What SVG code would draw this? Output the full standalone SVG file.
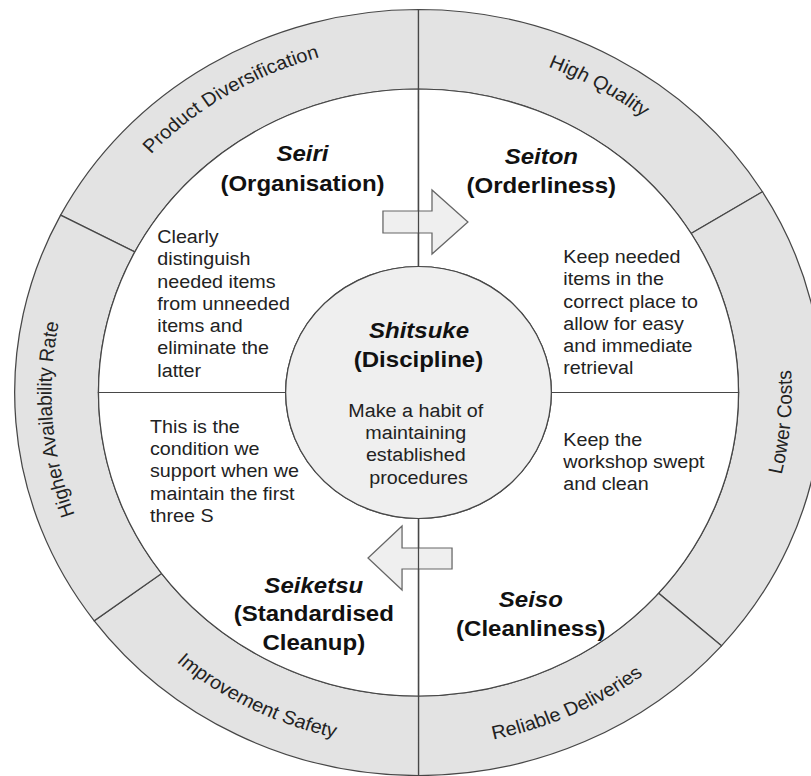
<svg xmlns="http://www.w3.org/2000/svg" width="811" height="776" viewBox="0 0 811 776">
<defs>
<style>
.ring{fill:#e3e3e3;stroke:#474747;stroke-width:1.2}
.quad{fill:#ffffff;stroke:#474747;stroke-width:1.2}
.hub{fill:#efefef;stroke:#474747;stroke-width:1.2}
.arrow{fill:#efefef;stroke:#666666;stroke-width:1.2}
.div{stroke:#474747;stroke-width:1.2;fill:none}
text{font-family:"Liberation Sans",Arial,Helvetica,sans-serif}
.lbl{font-size:19px;fill:#222222;text-anchor:middle}
.t{font-size:22.8px;font-weight:bold;fill:#111111;text-anchor:middle}
.ti{font-style:italic}
.b{font-size:18.7px;fill:#222222}
.bc{text-anchor:middle}
</style>
<path id="p-pd" d="M 110.1 231.3 A 348 348 0 0 1 418.5 44.5"/>
<path id="p-hq" d="M 418.5 44.5 A 348 348 0 0 1 714.9 210.1"/>
<path id="p-ha" d="M 139.1 600 A 348 348 0 0 1 110.1 231.3"/>
<path id="p-lc" d="M 684 626.6 A 354 354 0 0 0 720 207"/>
<path id="p-rd" d="M 418.5 746.5 A 354 354 0 0 0 684 626.6"/>
<path id="p-is" d="M 134.3 603.6 A 354 354 0 0 0 418.5 746.5"/>
</defs>
<rect width="811" height="776" fill="#ffffff"/>
<g transform="matrix(1.0545 0 0 1 -22.81 0)">
  <g id="ring-product-diversification">
    <path class="ring" d="M 79.1 215.1 A 383 383 0 0 1 418.5 9.5 L 418.5 89 A 303.5 303.5 0 0 0 149.5 251.9 Z"/>
    <text class="lbl"><textPath href="#p-pd" startOffset="50%">Product Diversification</textPath></text>
  </g>
  <g id="ring-high-quality">
    <path class="ring" d="M 418.5 9.5 A 383 383 0 0 1 744.7 191.8 L 677 233.5 A 303.5 303.5 0 0 0 418.5 89 Z"/>
    <text class="lbl"><textPath href="#p-hq" startOffset="50%">High Quality</textPath></text>
  </g>
  <g id="ring-lower-costs">
    <path class="ring" d="M 744.7 191.8 A 383 383 0 0 1 705.8 645.8 L 646.2 593.2 A 303.5 303.5 0 0 0 677 233.5 Z"/>
    <text class="lbl"><textPath href="#p-lc" startOffset="50%">Lower Costs</textPath></text>
  </g>
  <g id="ring-reliable-deliveries">
    <path class="ring" d="M 705.8 645.8 A 383 383 0 0 1 418.5 775.5 L 418.5 696 A 303.5 303.5 0 0 0 646.2 593.2 Z"/>
    <text class="lbl"><textPath href="#p-rd" startOffset="50%">Reliable Deliveries</textPath></text>
  </g>
  <g id="ring-improvement-safety">
    <path class="ring" d="M 418.5 775.5 A 383 383 0 0 1 111 620.8 L 174.9 573.4 A 303.5 303.5 0 0 0 418.5 696 Z"/>
    <text class="lbl"><textPath href="#p-is" startOffset="50%">Improvement Safety</textPath></text>
  </g>
  <g id="ring-higher-availability">
    <path class="ring" d="M 111 620.8 A 383 383 0 0 1 79.1 215.1 L 149.5 251.9 A 303.5 303.5 0 0 0 174.9 573.4 Z"/>
    <text class="lbl"><textPath href="#p-ha" startOffset="50%">Higher Availability Rate</textPath></text>
  </g>

  <g id="seiri">
    <path class="quad" d="M 115 392.5 A 303.5 303.5 0 0 1 418.5 89 L 418.5 266.5 A 126 126 0 0 0 292.5 392.5 Z"/>
    <text class="t ti" x="308.5" y="161.5">Seiri</text>
    <text class="t" x="308.5" y="191">(Organisation)</text>
    <text class="b">
      <tspan x="170.8" y="243">Clearly</tspan>
      <tspan x="170.8" y="265.3">distinguish</tspan>
      <tspan x="170.8" y="287.6">needed items</tspan>
      <tspan x="170.8" y="309.9">from unneeded</tspan>
      <tspan x="170.8" y="332.2">items and</tspan>
      <tspan x="170.8" y="354.5">eliminate the</tspan>
      <tspan x="170.8" y="376.8">latter</tspan>
    </text>
  </g>
  <g id="seiton">
    <path class="quad" d="M 418.5 89 A 303.5 303.5 0 0 1 722 392.5 L 544.5 392.5 A 126 126 0 0 0 418.5 266.5 Z"/>
    <text class="t ti" x="535" y="164.5">Seiton</text>
    <text class="t" x="535" y="193">(Orderliness)</text>
    <text class="b">
      <tspan x="555.8" y="263.3">Keep needed</tspan>
      <tspan x="555.8" y="285.5">items in the</tspan>
      <tspan x="555.8" y="307.7">correct place to</tspan>
      <tspan x="555.8" y="329.9">allow for easy</tspan>
      <tspan x="555.8" y="352.1">and immediate</tspan>
      <tspan x="555.8" y="374.3">retrieval</tspan>
    </text>
  </g>
  <g id="seiso">
    <path class="quad" d="M 722 392.5 A 303.5 303.5 0 0 1 418.5 696 L 418.5 518.5 A 126 126 0 0 0 544.5 392.5 Z"/>
    <text class="b">
      <tspan x="555.8" y="446">Keep the</tspan>
      <tspan x="555.8" y="468.2">workshop swept</tspan>
      <tspan x="555.8" y="490.4">and clean</tspan>
    </text>
    <text class="t ti" x="525" y="607.5">Seiso</text>
    <text class="t" x="525" y="636">(Cleanliness)</text>
  </g>
  <g id="seiketsu">
    <path class="quad" d="M 418.5 696 A 303.5 303.5 0 0 1 115 392.5 L 292.5 392.5 A 126 126 0 0 0 418.5 518.5 Z"/>
    <text class="b">
      <tspan x="163.9" y="432.7">This is the</tspan>
      <tspan x="163.9" y="455">condition we</tspan>
      <tspan x="163.9" y="477.3">support when we</tspan>
      <tspan x="163.9" y="499.6">maintain the first</tspan>
      <tspan x="163.9" y="521.9">three S</tspan>
    </text>
    <text class="t ti" x="319.2" y="593">Seiketsu</text>
    <text class="t" x="319.2" y="621.5">(Standardised</text>
    <text class="t" x="319.2" y="650">Cleanup)</text>
  </g>
  <g id="shitsuke">
    <circle class="hub" cx="418.5" cy="392.5" r="126"/>
    <text class="t ti" x="419" y="338">Shitsuke</text>
    <text class="t" x="418.5" y="367.3">(Discipline)</text>
    <text class="b bc">
      <tspan x="418.5" y="416.7">Make a habit of</tspan>
      <tspan x="418.5" y="439">maintaining</tspan>
      <tspan x="418.5" y="461.3">established</tspan>
      <tspan x="418.5" y="483.6">procedures</tspan>
    </text>
  </g>

  <g id="connectors">
    <polygon class="arrow" points="384.8,211 431.3,211 431.3,190 465.4,222 431.3,254 431.3,233 384.8,233"/>
    <polygon class="arrow" points="450.3,548 402.9,548 402.9,526 370.6,558 402.9,590 402.9,569 450.3,569"/>
    <path class="div" d="M418.5 89 V266.5 M418.5 518.5 V696"/>
  </g>
</g>
</svg>
